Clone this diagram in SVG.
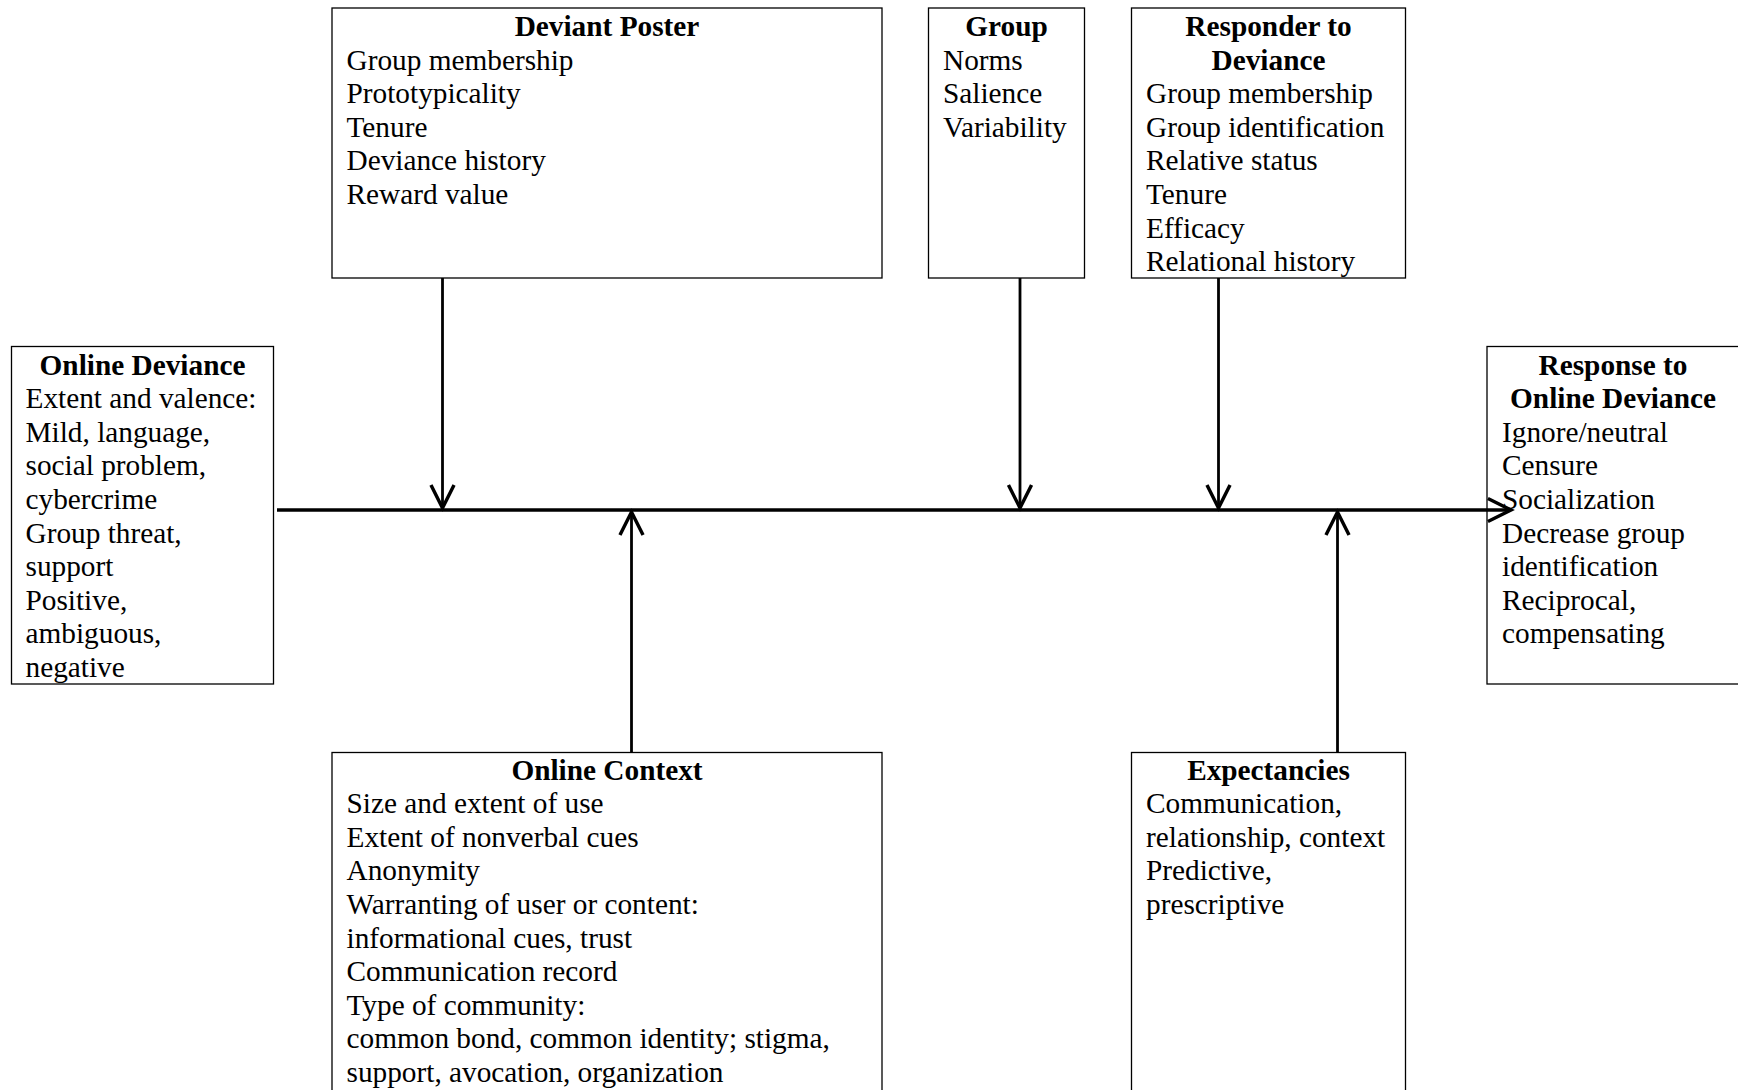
<svg xmlns="http://www.w3.org/2000/svg" width="1738" height="1090" viewBox="0 0 1738 1090">
<defs>
<marker id="ah" markerUnits="userSpaceOnUse" markerWidth="30" markerHeight="30" viewBox="-22 -12 26 24" refX="0" refY="0" orient="auto">
<polyline points="-20,-10 0,0 -20,10" fill="none" stroke="#000" stroke-width="3"/>
</marker>
<style>
.box{fill:#fff;stroke:#000;stroke-width:1.3}
text{font-family:"Liberation Serif","Times New Roman",serif;font-size:29.3px;fill:#000}
.t{font-weight:bold;text-anchor:middle}
.c{stroke:#000;stroke-width:2.8;fill:none}
.sp{stroke:#000;stroke-width:3.3;fill:none}
</style>
</defs>
<rect width="1738" height="1090" fill="#fff"/>
<g id="deviant-poster">
<rect class="box" x="332" y="8" width="550" height="270"/>
<text class="t" x="607" y="36">Deviant Poster</text>
<text x="346.5" y="69.6">Group membership</text>
<text x="346.5" y="103.2">Prototypicality</text>
<text x="346.5" y="136.8">Tenure</text>
<text x="346.5" y="170.4">Deviance history</text>
<text x="346.5" y="204">Reward value</text>
</g>
<g id="group">
<rect class="box" x="928.5" y="8" width="156" height="270"/>
<text class="t" x="1006.5" y="36">Group</text>
<text x="943" y="69.6">Norms</text>
<text x="943" y="103.2">Salience</text>
<text x="943" y="136.8">Variability</text>
</g>
<g id="responder">
<rect class="box" x="1131.5" y="8" width="274" height="270"/>
<text class="t" x="1268.5" y="36">Responder to</text>
<text class="t" x="1268.5" y="69.6">Deviance</text>
<text x="1146" y="103.2">Group membership</text>
<text x="1146" y="136.8">Group identification</text>
<text x="1146" y="170.4">Relative status</text>
<text x="1146" y="204">Tenure</text>
<text x="1146" y="237.6">Efficacy</text>
<text x="1146" y="271.2">Relational history</text>
</g>
<g id="online-deviance">
<rect class="box" x="11.5" y="346.5" width="262" height="337.5"/>
<text class="t" x="142.5" y="374.5">Online Deviance</text>
<text x="25.5" y="408.1">Extent and valence:</text>
<text x="25.5" y="441.7">Mild, language,</text>
<text x="25.5" y="475.3">social problem,</text>
<text x="25.5" y="508.9">cybercrime</text>
<text x="25.5" y="542.5">Group threat,</text>
<text x="25.5" y="576.1">support</text>
<text x="25.5" y="609.7">Positive,</text>
<text x="25.5" y="643.3">ambiguous,</text>
<text x="25.5" y="676.9">negative</text>
</g>
<g id="response">
<rect class="box" x="1487" y="346.5" width="260" height="337.5"/>
<text class="t" x="1613" y="374.5">Response to</text>
<text class="t" x="1613" y="408.1">Online Deviance</text>
<text x="1502" y="441.7">Ignore/neutral</text>
<text x="1502" y="475.3">Censure</text>
<text x="1502" y="508.9">Socialization</text>
<text x="1502" y="542.5">Decrease group</text>
<text x="1502" y="576.1">identification</text>
<text x="1502" y="609.7">Reciprocal,</text>
<text x="1502" y="643.3">compensating</text>
</g>
<g id="online-context">
<rect class="box" x="332" y="752.5" width="550" height="350"/>
<text class="t" x="607" y="779.6">Online Context</text>
<text x="346.5" y="813.2">Size and extent of use</text>
<text x="346.5" y="846.8">Extent of nonverbal cues</text>
<text x="346.5" y="880.4">Anonymity</text>
<text x="346.5" y="914">Warranting of user or content:</text>
<text x="346.5" y="947.6">informational cues, trust</text>
<text x="346.5" y="981.2">Communication record</text>
<text x="346.5" y="1014.8">Type of community:</text>
<text x="346.5" y="1048.4">common bond, common identity; stigma,</text>
<text x="346.5" y="1082">support, avocation, organization</text>
</g>
<g id="expectancies">
<rect class="box" x="1131.5" y="752.5" width="274" height="350"/>
<text class="t" x="1268.5" y="779.6">Expectancies</text>
<text x="1146" y="813.2">Communication,</text>
<text x="1146" y="846.8">relationship, context</text>
<text x="1146" y="880.4">Predictive,</text>
<text x="1146" y="914">prescriptive</text>
</g>
<g id="connectors">
<line class="sp" x1="277" y1="510" x2="1511" y2="510" marker-end="url(#ah)"/>
<line class="c" x1="442.5" y1="278" x2="442.5" y2="508" marker-end="url(#ah)"/>
<line class="c" x1="1020" y1="278" x2="1020" y2="508" marker-end="url(#ah)"/>
<line class="c" x1="1218.5" y1="278" x2="1218.5" y2="508" marker-end="url(#ah)"/>
<line class="c" x1="631.5" y1="752" x2="631.5" y2="512" marker-end="url(#ah)"/>
<line class="c" x1="1337.5" y1="752" x2="1337.5" y2="512" marker-end="url(#ah)"/>
</g>
</svg>
